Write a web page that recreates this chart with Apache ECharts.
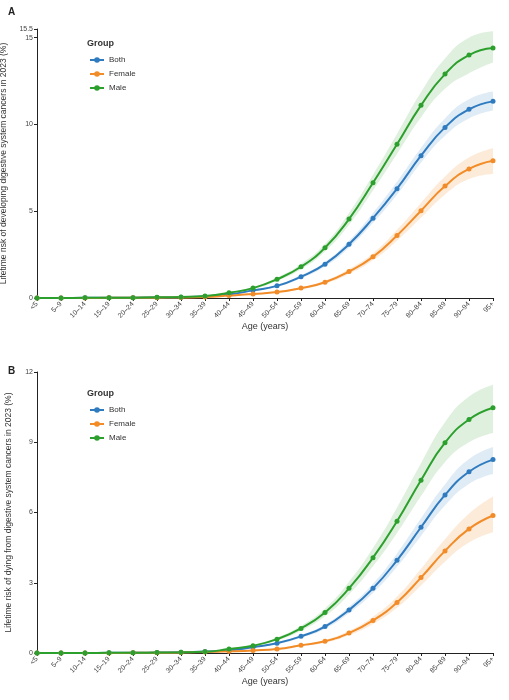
<!DOCTYPE html>
<html><head><meta charset="utf-8">
<script src="https://cdn.jsdelivr.net/npm/echarts@6/dist/echarts.min.js"></script>
<style>html,body{margin:0;background:#fff}#chart{width:509px;height:700px}</style>
</head><body><div id="chart"></div>
<script>
const ages = ['<5', '5–9', '10–14', '15–19', '20–24', '25–29', '30–34', '35–39', '40–44', '45–49',
  '50–54', '55–59', '60–64', '65–69', '70–74', '75–79', '80–84', '85–89', '90–94', '95+'];

// Panel A: lifetime risk of developing (%)
const incBoth = [0, 0, 0.01, 0.01, 0.02, 0.03, 0.05, 0.09, 0.2, 0.44, 0.7, 1.23, 1.95, 3.1, 4.6, 6.3, 8.2, 9.83, 10.87, 11.33];
const incBothLo = [0, 0, 0.01, 0.01, 0.02, 0.03, 0.05, 0.08, 0.18, 0.4, 0.64, 1.14, 1.82, 2.9, 4.33, 5.95, 7.8, 9.35, 10.35, 10.8];
const incBothHi = [0, 0, 0.01, 0.01, 0.02, 0.03, 0.05, 0.1, 0.22, 0.48, 0.76, 1.32, 2.08, 3.3, 4.9, 6.7, 8.65, 10.35, 11.45, 11.9];
const incFemale = [0, 0, 0, 0.01, 0.01, 0.02, 0.03, 0.06, 0.14, 0.23, 0.34, 0.57, 0.91, 1.52, 2.37, 3.6, 5.03, 6.45, 7.44, 7.91];
const incFemaleLo = [0, 0, 0, 0.01, 0.01, 0.02, 0.03, 0.05, 0.12, 0.2, 0.3, 0.51, 0.82, 1.38, 2.17, 3.3, 4.62, 5.95, 6.85, 7.15];
const incFemaleHi = [0, 0, 0, 0.01, 0.01, 0.02, 0.03, 0.07, 0.16, 0.26, 0.38, 0.63, 1.0, 1.67, 2.58, 3.93, 5.48, 7.0, 8.1, 8.63];
const incMale = [0, 0, 0.01, 0.01, 0.02, 0.04, 0.06, 0.12, 0.3, 0.57, 1.08, 1.8, 2.9, 4.55, 6.64, 8.86, 11.1, 12.9, 14.0, 14.4];
const incMaleLo = [0, 0, 0.01, 0.01, 0.02, 0.04, 0.05, 0.1, 0.26, 0.51, 0.98, 1.65, 2.68, 4.22, 6.2, 8.3, 10.4, 12.05, 12.95, 13.57];
const incMaleHi = [0, 0, 0.01, 0.01, 0.02, 0.04, 0.07, 0.14, 0.34, 0.63, 1.18, 1.96, 3.12, 4.9, 7.1, 9.45, 11.85, 13.8, 15.0, 15.37];

// Panel B: lifetime risk of dying (%)
const mortBoth = [0, 0, 0, 0.01, 0.01, 0.02, 0.03, 0.06, 0.11, 0.25, 0.42, 0.71, 1.13, 1.84, 2.76, 3.96, 5.37, 6.75, 7.74, 8.26];
const mortBothLo = [0, 0, 0, 0.01, 0.01, 0.02, 0.03, 0.05, 0.1, 0.22, 0.38, 0.65, 1.04, 1.7, 2.56, 3.68, 5.0, 6.3, 7.22, 7.64];
const mortBothHi = [0, 0, 0, 0.01, 0.01, 0.02, 0.03, 0.07, 0.12, 0.28, 0.46, 0.77, 1.22, 1.98, 2.96, 4.25, 5.75, 7.2, 8.28, 8.8];
const mortFemale = [0, 0, 0, 0, 0.01, 0.01, 0.02, 0.04, 0.07, 0.11, 0.17, 0.33, 0.5, 0.85, 1.39, 2.16, 3.22, 4.36, 5.3, 5.87];
const mortFemaleLo = [0, 0, 0, 0, 0.01, 0.01, 0.02, 0.03, 0.06, 0.1, 0.15, 0.29, 0.44, 0.76, 1.24, 1.93, 2.88, 3.9, 4.72, 5.16];
const mortFemaleHi = [0, 0, 0, 0, 0.01, 0.01, 0.02, 0.05, 0.08, 0.13, 0.2, 0.37, 0.56, 0.95, 1.55, 2.41, 3.6, 4.86, 5.95, 6.68];
const mortMale = [0, 0, 0, 0.01, 0.01, 0.02, 0.03, 0.05, 0.17, 0.31, 0.59, 1.05, 1.73, 2.76, 4.07, 5.63, 7.38, 8.98, 9.97, 10.47];
const mortMaleLo = [0, 0, 0, 0.01, 0.01, 0.02, 0.03, 0.04, 0.15, 0.28, 0.53, 0.95, 1.57, 2.5, 3.7, 5.12, 6.7, 8.15, 9.0, 9.4];
const mortMaleHi = [0, 0, 0, 0.01, 0.01, 0.02, 0.03, 0.06, 0.19, 0.35, 0.66, 1.16, 1.9, 3.04, 4.48, 6.2, 8.1, 9.85, 10.95, 11.46];

const colors = { Both: '#2f7bbf', Female: '#f28c28', Male: '#2ca02c' };
const bandColors = { Both: 'rgba(47,123,191,0.22)', Female: 'rgba(242,140,40,0.25)', Male: 'rgba(44,160,44,0.22)' };

const chart = echarts.init(document.getElementById('chart'));

function panelSeries(idx, groups) {
  const out = [];
  groups.forEach(([name, mid, lo, hi]) => {
    const stack = 'band' + idx + name;
    out.push({
      type: 'line', xAxisIndex: idx, yAxisIndex: idx, stack, data: lo, smooth: true,
      symbol: 'none', lineStyle: { opacity: 0 }, silent: true, z: 1,
    });
    out.push({
      type: 'line', xAxisIndex: idx, yAxisIndex: idx, stack, data: hi.map((v, i) => +(v - lo[i]).toFixed(3)),
      smooth: true, symbol: 'none', lineStyle: { opacity: 0 }, areaStyle: { color: bandColors[name] }, silent: true, z: 1,
    });
  });
  groups.forEach(([name, mid]) => {
    out.push({
      name, type: 'line', xAxisIndex: idx, yAxisIndex: idx, data: mid, smooth: true,
      symbol: 'circle', symbolSize: 5, z: 3,
      lineStyle: { color: colors[name], width: 2 }, itemStyle: { color: colors[name] },
    });
  });
  return out;
}

const axisText = { fontSize: 7, color: '#444', fontFamily: 'Liberation Sans' };
const xAxisBase = {
  type: 'category', data: ages, boundaryGap: false,
  axisLine: { lineStyle: { color: '#222' } }, axisTick: { lineStyle: { color: '#222' }, length: 3 },
  axisLabel: { ...axisText, rotate: 45, interval: 0, margin: 5 },
  name: 'Age (years)', nameLocation: 'middle', nameGap: 23,
  nameTextStyle: { fontSize: 9, color: '#333', fontFamily: 'Liberation Sans' },
};
const yAxisBase = {
  type: 'value', min: 0, splitLine: { show: false },
  axisLine: { show: true, lineStyle: { color: '#222' } }, axisTick: { show: true, length: 3, lineStyle: { color: '#222' } },
  axisLabel: { ...axisText, margin: 4 }, nameLocation: 'middle', nameGap: 24,
  nameTextStyle: { fontSize: 8.5, color: '#333', fontFamily: 'Liberation Sans' },
};
const legendBase = {
  orient: 'vertical', left: 84, itemWidth: 14, itemHeight: 7, itemGap: 6,
  textStyle: { fontSize: 8, color: '#333', fontFamily: 'Liberation Sans' },
  data: ['Both', 'Female', 'Male'],
};

chart.setOption({
  animation: false,
  color: [colors.Both, colors.Female, colors.Male],
  title: [
    { text: 'A', left: 3, top: 2, textStyle: { fontSize: 10, fontWeight: 'bold', color: '#222' } },
    { text: 'B', left: 3, top: 361, textStyle: { fontSize: 10, fontWeight: 'bold', color: '#222' } },
    { text: 'Group', left: 82, top: 34, textStyle: { fontSize: 9, fontWeight: 'bold', color: '#333', fontFamily: 'Liberation Sans' } },
    { text: 'Group', left: 82, top: 384, textStyle: { fontSize: 9, fontWeight: 'bold', color: '#333', fontFamily: 'Liberation Sans' } },
  ],
  legend: [
    { ...legendBase, top: 51 },
    { ...legendBase, top: 401 },
  ],
  grid: [
    { left: 37, right: 16, top: 29, height: 269, outerBoundsMode: 'none' },
    { left: 37, right: 16, top: 372, height: 281, outerBoundsMode: 'none' },
  ],
  xAxis: [{ ...xAxisBase, gridIndex: 0 }, { ...xAxisBase, gridIndex: 1 }],
  yAxis: [
    { ...yAxisBase, gridIndex: 0, max: 15.5, interval: 5, name: 'Lifetime risk of developing digestive system cancers in 2023 (%)' },
    { ...yAxisBase, gridIndex: 1, max: 12, interval: 3, name: 'Lifetime risk of dying from digestive system cancers in 2023 (%)' },
  ],
  series: [
    ...panelSeries(0, [['Both', incBoth, incBothLo, incBothHi], ['Female', incFemale, incFemaleLo, incFemaleHi], ['Male', incMale, incMaleLo, incMaleHi]]),
    ...panelSeries(1, [['Both', mortBoth, mortBothLo, mortBothHi], ['Female', mortFemale, mortFemaleLo, mortFemaleHi], ['Male', mortMale, mortMaleLo, mortMaleHi]]),
  ],
});
</script></body></html>
